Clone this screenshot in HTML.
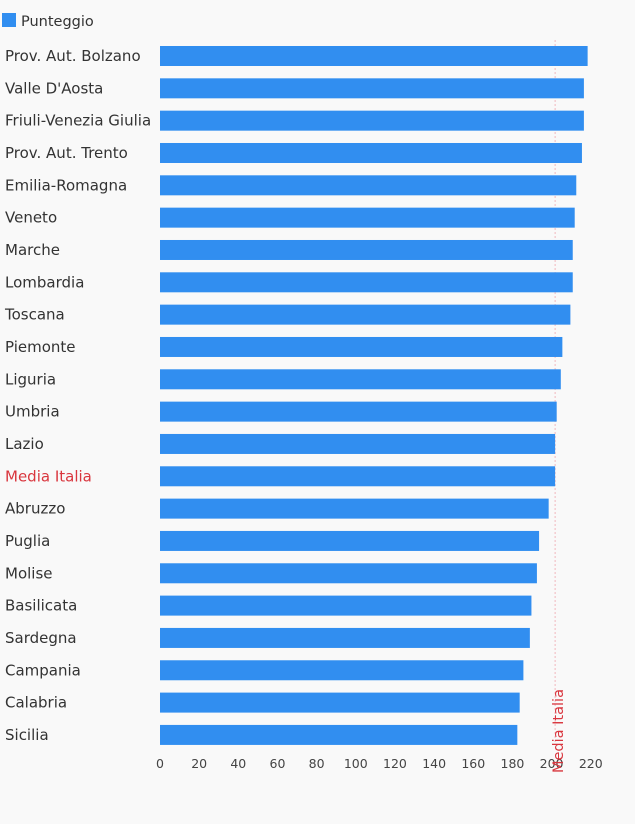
<!DOCTYPE html>
<html><head><meta charset="utf-8"><style>
body{margin:0;background:#f9f9f9;font-family:"DejaVu Sans","Liberation Sans",sans-serif;}
svg text{font-family:"DejaVu Sans","Liberation Sans",sans-serif;}
</style></head><body>
<svg id="c" width="635" height="820" xmlns="http://www.w3.org/2000/svg">
<rect width="635" height="820" fill="#f9f9f9"/>
<rect x="2" y="13" width="14" height="14" fill="#318ef0"/>
<text x="21" y="26" font-size="14.5" fill="#333">Punteggio</text>
</svg>
<script>
const categories=["Prov. Aut. Bolzano","Valle D'Aosta","Friuli-Venezia Giulia","Prov. Aut. Trento","Emilia-Romagna","Veneto","Marche","Lombardia","Toscana","Piemonte","Liguria","Umbria","Lazio","Media Italia","Abruzzo","Puglia","Molise","Basilicata","Sardegna","Campania","Calabria","Sicilia"];
const values=[218.4,216.5,216.5,215.5,212.6,211.8,210.8,210.8,209.6,205.5,204.7,202.6,201.8,201.8,198.5,193.6,192.5,189.7,188.9,185.6,183.7,182.5];
const ticks=[0,20,40,60,80,100,120,140,160,180,200,220];
const mediaValue=201.8;
const NS="http://www.w3.org/2000/svg";
const svg=document.getElementById('c');
const x=v=>160+v*1.958;
const y=i=>56+i*32.33;
function mk(t,a){const e=document.createElementNS(NS,t);for(const k in a)e.setAttribute(k,a[k]);svg.appendChild(e);return e;}
const l=mk('line',{x1:x(mediaValue),x2:x(mediaValue),y1:40,y2:745,stroke:'#f2b8bd','stroke-width':1,'stroke-dasharray':'2,2'});


categories.forEach((c,i)=>{
  const b=mk('rect',{x:160,y:y(i)-10,width:x(values[i])-160,height:20,fill:'#318ef0'});
  
  
  const t=mk('text',{x:5,y:y(i)+5,'font-size':15,fill:c==='Media Italia'?'#d9363e':'#333'});
  t.textContent=c;
  
  
});
ticks.forEach(v=>{
  const t=mk('text',{x:x(v),y:768,'font-size':12.5,fill:'#444','text-anchor':'middle'});
  t.textContent=v;
  
  
});
const ml=mk('text',{x:0,y:0,'font-size':14.5,fill:'#d9363e',transform:`translate(${x(mediaValue)+8},773) rotate(-90)`});
ml.textContent='Media Italia';


</script>
</body></html>
